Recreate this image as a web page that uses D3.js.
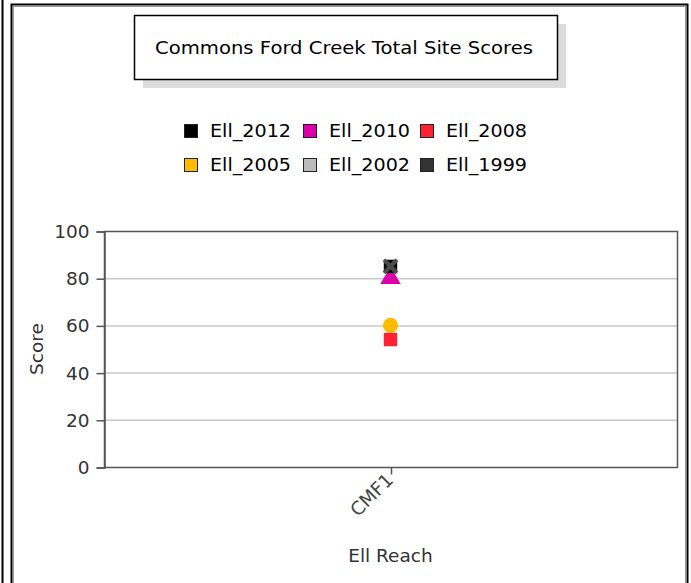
<!DOCTYPE html>
<html>
<head>
<meta charset="utf-8">
<script src="https://cdn.jsdelivr.net/npm/d3@7"></script>
<style>
  body { margin: 0; background: #fff; }
  svg { display: block; font-family: Tahoma, "DejaVu Sans", sans-serif; }
</style>
</head>
<body>
<svg id="chart" width="691" height="583"></svg>
<script>
const svg = d3.select('#chart');
const width = +svg.attr("width");
const height = +svg.attr("height");
const fontSize = 18.5;

// data
const categories = ["CMF1"];
const seriesNames = ["Ell_2012", "Ell_2010", "Ell_2008", "Ell_2005", "Ell_2002", "Ell_1999"];
const seriesColors = ["#000000", "#dd00aa", "#ff2233", "#ffbb00", "#bbbbbb", "#333333"];
const seriesShapes = ["square", "triangle", "square", "circle", "cross", "cross"];
const seriesValues = [[85], [80], [54], [60], [85], [85]];
const yTicks = [0, 20, 40, 60, 80, 100];

const plot = { left: 104, right: 677, top: 231, bottom: 467 };

// page frame
svg.append("line")
    .attr("x1", 2.5).attr("x2", 2.5).attr("y1", 0).attr("y2", height)
    .attr("stroke", "#000").attr("stroke-width", 2);
svg.append("rect")
    .attr("x", 11.5).attr("y", 4.5).attr("width", 676).attr("height", height)
    .attr("fill", "none").attr("stroke", "#000").attr("stroke-width", 2);
svg.append("rect")
    .attr("x", 13.5).attr("y", 6.5).attr("width", 672).attr("height", height)
    .attr("fill", "none").attr("stroke", "#999").attr("stroke-width", 1);

// title box with shadow
svg.append("rect")
    .attr("x", 143).attr("y", 24).attr("width", 423).attr("height", 64)
    .attr("fill", "#dcdcdc");
svg.append("rect")
    .attr("x", 134.5).attr("y", 15.5).attr("width", 423).attr("height", 64)
    .attr("fill", "#fff").attr("stroke", "#000").attr("stroke-width", 1.5);
svg.append("text")
    .attr("x", 344).attr("y", 49)
    .attr("text-anchor", "middle").attr("dominant-baseline", "middle")
    .attr("font-size", fontSize).attr("fill", "#000")
    .attr("textLength", 378).attr("lengthAdjust", "spacingAndGlyphs")
    .text("Commons Ford Creek Total Site Scores");

// legend
const legendX = [184, 303, 420];
const legendY = [132, 166];
seriesNames.forEach(function(name, i) {
    const lx = legendX[i % 3];
    const ly = legendY[Math.floor(i / 3)];
    svg.append("rect")
        .attr("x", lx + 0.5).attr("y", ly - 7.5).attr("width", 13).attr("height", 13)
        .attr("fill", seriesColors[i]).attr("stroke", "#222").attr("stroke-width", 1);
    svg.append("text")
        .attr("x", lx + 26).attr("y", ly)
        .attr("dominant-baseline", "middle")
        .attr("font-size", fontSize).attr("fill", "#000")
        .attr("textLength", 81).attr("lengthAdjust", "spacingAndGlyphs")
        .text(name);
});

// scales
const x = d3.scalePoint().domain(categories).range([plot.left, plot.right]).padding(0.5);
const y = d3.scaleLinear().domain([0, 100]).range([plot.bottom, plot.top]);

// grid
svg.append("g").selectAll("line")
    .data(yTicks.filter(d => d > 0 && d < 100))
    .join("line")
    .attr("x1", plot.left).attr("x2", plot.right)
    .attr("y1", d => y(d) + 0.5).attr("y2", d => y(d) + 0.5)
    .attr("stroke", "#c8c8c8").attr("stroke-width", 1.5);

// plot frame
svg.append("rect")
    .attr("x", plot.left + 0.5).attr("y", plot.top + 0.5)
    .attr("width", plot.right - plot.left).attr("height", plot.bottom - plot.top)
    .attr("fill", "none").attr("stroke", "#555").attr("stroke-width", 1.5);

// y axis
const yAxis = svg.append("g")
    .attr("transform", `translate(${plot.left + 0.5},0.5)`)
    .call(d3.axisLeft(y).tickValues(yTicks).tickSize(8).tickPadding(7));
yAxis.select(".domain").attr("stroke", "#555").attr("stroke-width", 1.5);
yAxis.selectAll(".tick line").attr("stroke", "#555").attr("stroke-width", 1.5);
yAxis.selectAll("text").attr("font-size", fontSize).attr("fill", "#333")
    .attr("font-family", "Tahoma, 'DejaVu Sans', sans-serif");

// x axis
const xAxis = svg.append("g")
    .attr("transform", `translate(0.5,${plot.bottom + 0.5})`)
    .call(d3.axisBottom(x).tickSize(7).tickPadding(4));
xAxis.select(".domain").remove();
xAxis.selectAll(".tick line").attr("stroke", "#555").attr("stroke-width", 1.5);
xAxis.selectAll("text")
    .attr("font-size", fontSize).attr("fill", "#444")
    .attr("font-family", "Tahoma, 'DejaVu Sans', sans-serif")
    .attr("text-anchor", "end")
    .attr("dy", "0.3em")
    .attr("transform", "translate(-9,2) rotate(-45)");

// axis titles
svg.append("text")
    .attr("x", (plot.left + plot.right) / 2).attr("y", 557)
    .attr("text-anchor", "middle").attr("dominant-baseline", "middle")
    .attr("font-size", fontSize).attr("fill", "#333")
    .text("Ell Reach");
svg.append("text")
    .attr("transform", `translate(38,${(plot.top + plot.bottom) / 2}) rotate(-90)`)
    .attr("text-anchor", "middle").attr("dominant-baseline", "middle")
    .attr("font-size", fontSize).attr("fill", "#333")
    .text("Score");

// markers (draw in reverse so 2012 ends on top)
const symbolFor = {
    square: d3.symbolSquare,
    triangle: d3.symbolTriangle,
    circle: d3.symbolCircle,
    cross: d3.symbolX
};
const markers = svg.append("g");
const order = [3, 2, 1, 0, 4, 5];
order.forEach(function(i) {
    seriesValues[i].forEach(function(v, j) {
        const shape = seriesShapes[i];
        const sym = d3.symbol().type(symbolFor[shape]).size(shape === "cross" ? 110 : 180);
        const m = markers.append("path")
            .attr("d", sym())
            .attr("transform", `translate(${x(categories[j])},${y(v)})`);
        if (shape === "cross") {
            m.attr("fill", "none").attr("stroke", seriesColors[i]).attr("stroke-width", 4)
                .attr("opacity", 0.7);
        } else {
            m.attr("fill", seriesColors[i]);
        }
    });
});
</script>
</body>
</html>
